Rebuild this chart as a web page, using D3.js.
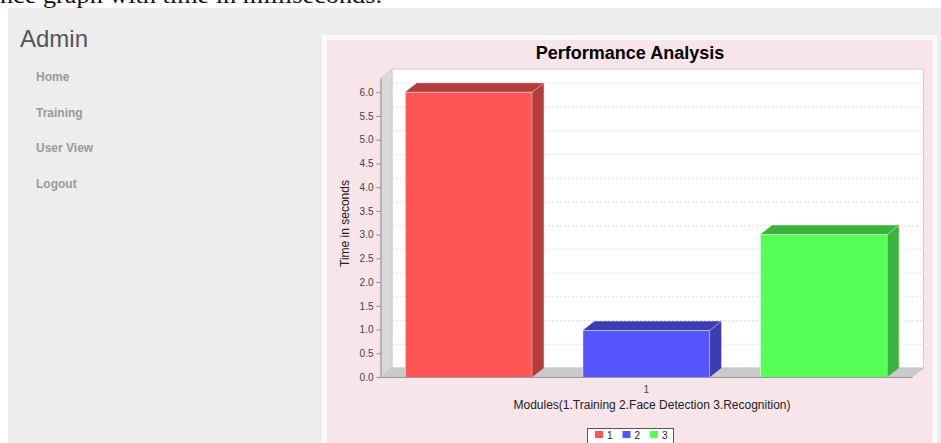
<!DOCTYPE html>
<html>
<head>
<meta charset="utf-8">
<script src="https://cdn.jsdelivr.net/npm/d3@7"></script>
<style>
  html, body { margin: 0; padding: 0; background: #ffffff; overflow: hidden; }
  svg { display: block; }
</style>
</head>
<body>
<svg id="c" width="941" height="443"></svg>
<script>
// ---- data ----
const categories = ["1"];
const seriesNames = ["1", "2", "3"];
const seriesValues = [6.0, 0.98, 3.0];
const seriesFront = ["#ff5555", "#5555ff", "#55ff55"];
const seriesDark = ["#b33c3c", "#3c3cb3", "#3cb33c"];
const yTicks = [0, 0.5, 1.0, 1.5, 2.0, 2.5, 3.0, 3.5, 4.0, 4.5, 5.0, 5.5, 6.0];
const yMax = 6.3;
const menuItems = ["Home", "Training", "User View", "Logout"];
const chartTitle = "Performance Analysis";
const yLabel = "Time in seconds";
const xLabel = "Modules(1.Training 2.Face Detection 3.Recognition)";
const topText = "nce graph with time in milliseconds.";

const svg = d3.select("#c");
const SANS = "'Liberation Sans', Arial, sans-serif";

// ---- page ----
svg.append("rect").attr("x", 0).attr("y", 0).attr("width", 941).attr("height", 443).attr("fill", "#ffffff");
svg.append("text").attr("x", 0).attr("y", 2.5)
  .attr("font-family", "'Liberation Serif', 'Times New Roman', serif")
  .attr("font-size", 24).attr("fill", "#111")
  .attr("textLength", 382).attr("lengthAdjust", "spacingAndGlyphs")
  .text(topText);
svg.append("rect").attr("x", 8).attr("y", 8).attr("width", 933).attr("height", 435).attr("fill", "#ededed");

// sidebar
svg.append("text").attr("x", 20).attr("y", 47)
  .attr("font-family", SANS).attr("font-size", 24).attr("fill", "#555")
  .text("Admin");
menuItems.forEach((m, i) => {
  svg.append("text").attr("x", 36).attr("y", 81 + i * 35.5)
    .attr("font-family", SANS).attr("font-size", 12).attr("font-weight", "bold")
    .attr("fill", "#9a9a9a").text(m);
});

// chart container
svg.append("rect").attr("x", 322).attr("y", 35).attr("width", 615).attr("height", 420).attr("fill", "#fbfafa");
svg.append("rect").attr("x", 327).attr("y", 40).attr("width", 605).attr("height", 410).attr("fill", "#f8e5e9");

svg.append("text").attr("x", 630).attr("y", 59).attr("text-anchor", "middle")
  .attr("font-family", SANS).attr("font-size", 18).attr("font-weight", "bold").attr("fill", "#000")
  .text(chartTitle);

// ---- plot geometry ----
const plotLeft = 380.5, plotRight = 912, plotTop = 78, plotBottom = 377;
const dx = 11.5, dy = 9;

const y = d3.scaleLinear().domain([0, yMax]).range([plotBottom, plotTop]);
const xCat = d3.scaleBand().domain(categories).range([plotLeft, plotRight]).padding(0);
const xSer = d3.scaleBand().domain(seriesNames)
  .range([xCat(categories[0]), xCat(categories[0]) + xCat.bandwidth()])
  .paddingInner(0.2865).paddingOuter(0.14);

const g = svg.append("g");

// back wall
g.append("rect").attr("x", plotLeft + dx).attr("y", plotTop - dy)
  .attr("width", plotRight - plotLeft).attr("height", plotBottom - plotTop)
  .attr("fill", "#ffffff").attr("stroke", "#cfcfcf").attr("stroke-width", 1);

// gridlines on back wall
g.selectAll(".grid").data(yTicks.filter(v => v > 0)).enter().append("line")
  .attr("x1", plotLeft + dx).attr("x2", plotRight + dx)
  .attr("y1", d => y(d) - dy).attr("y2", d => y(d) - dy)
  .attr("stroke", "#d6d6d6").attr("stroke-width", 0.8).attr("stroke-dasharray", "2,2");

// left wall
g.append("path").attr("d", d3.line()([
  [plotLeft, plotBottom], [plotLeft + dx, plotBottom - dy], [plotLeft + dx, plotTop - dy], [plotLeft, plotTop]
])).attr("fill", "#d9d9d9").attr("stroke", "#c4c4c4").attr("stroke-width", 0.6);

// floor
g.append("path").attr("d", d3.line()([
  [plotLeft, plotBottom], [plotRight, plotBottom], [plotRight + dx, plotBottom - dy], [plotLeft + dx, plotBottom - dy]
])).attr("fill", "#cbcbcb").attr("stroke", "#bdbdbd").attr("stroke-width", 0.6);

// bars
seriesNames.forEach((s, i) => {
  const x0 = xSer(s), x1 = x0 + xSer.bandwidth();
  const yt = y(seriesValues[i]), yb = y(0);
  const bg = g.append("g");
  bg.append("path").attr("d", d3.line()([[x1, yt], [x1 + dx, yt - dy], [x1 + dx, yb - dy], [x1, yb]]))
    .attr("fill", seriesDark[i]).attr("stroke", seriesDark[i]).attr("stroke-width", 0.5);
  bg.append("path").attr("d", d3.line()([[x0, yt], [x0 + dx, yt - dy], [x1 + dx, yt - dy], [x1, yt]]))
    .attr("fill", seriesDark[i]).attr("stroke", seriesDark[i]).attr("stroke-width", 0.5);
  bg.append("rect").attr("x", x0).attr("y", yt).attr("width", x1 - x0).attr("height", yb - yt)
    .attr("fill", seriesFront[i]);
  bg.append("path").attr("d", d3.line()([[x0, yb], [x0, yt], [x1, yt], [x1 + dx, yt - dy]]))
    .attr("fill", "none").attr("stroke", "#ffffff").attr("stroke-opacity", 0.45).attr("stroke-width", 1);
  bg.append("line").attr("x1", x1).attr("x2", x1).attr("y1", yt).attr("y2", yb)
    .attr("stroke", "#ffffff").attr("stroke-opacity", 0.35).attr("stroke-width", 1);
});

// y axis
const yAxis = d3.axisLeft(y).tickValues(yTicks).tickFormat(d3.format(".1f")).tickSizeInner(4).tickSizeOuter(0).tickPadding(3);
const ya = svg.append("g").attr("transform", `translate(${plotLeft},0)`).call(yAxis);
ya.select(".domain").attr("stroke", "#8c8c8c");
ya.selectAll(".tick line").attr("stroke", "#8c8c8c");
ya.selectAll(".tick text").attr("font-family", SANS).attr("font-size", 10).attr("fill", "#444");

// x axis
const xAxis = d3.axisBottom(xCat).tickSize(0).tickPadding(9);
const xa = svg.append("g").attr("transform", `translate(0,${plotBottom})`).call(xAxis);
xa.select(".domain").attr("stroke", "#9a9a9a");
xa.selectAll(".tick text").attr("font-family", SANS).attr("font-size", 10).attr("fill", "#444");

// axis labels
svg.append("text").attr("transform", `translate(349,${(plotTop + plotBottom) / 2 - 4}) rotate(-90)`)
  .attr("text-anchor", "middle").attr("font-family", SANS).attr("font-size", 12).attr("fill", "#222")
  .text(yLabel);
svg.append("text").attr("x", (plotLeft + plotRight + dx) / 2).attr("y", 409)
  .attr("text-anchor", "middle").attr("font-family", SANS).attr("font-size", 12).attr("fill", "#222")
  .text(xLabel);

// legend
const leg = svg.append("g");
leg.append("rect").attr("x", 587.5).attr("y", 428.5).attr("width", 86).attr("height", 20)
  .attr("fill", "#ffffff").attr("stroke", "#555").attr("stroke-width", 1);
const legX = d3.scalePoint().domain(seriesNames).range([595, 650]);
seriesNames.forEach((s, i) => {
  leg.append("rect").attr("x", legX(s)).attr("y", 431).attr("width", 8).attr("height", 7).attr("fill", seriesFront[i]);
  leg.append("text").attr("x", legX(s) + 12).attr("y", 439)
    .attr("font-family", SANS).attr("font-size", 10).attr("fill", "#222").text(s);
});
</script>
</body>
</html>
